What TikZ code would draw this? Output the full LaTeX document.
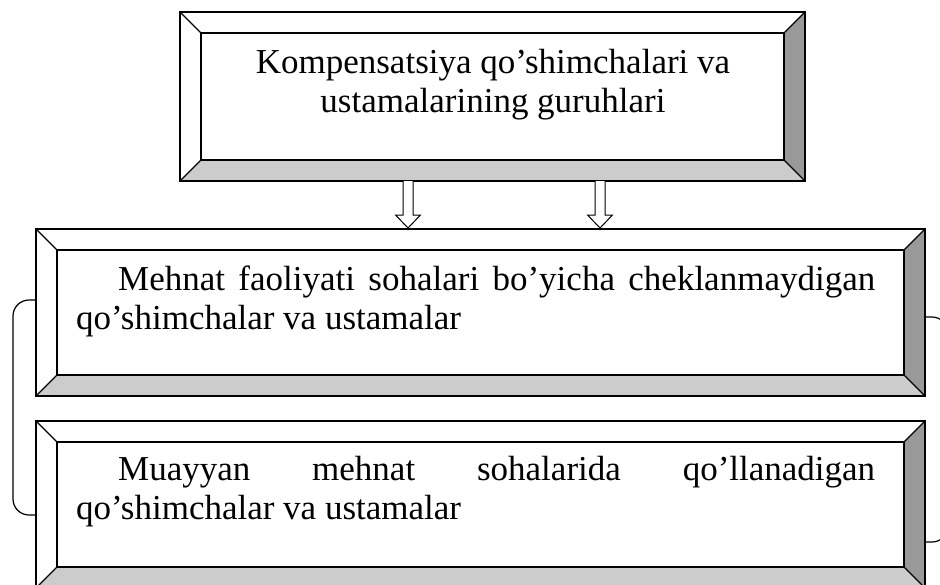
\documentclass[tikz,border=0pt]{standalone}
\usepackage{fontspec}
\setmainfont{Liberation Serif}
\newcommand{\txtsetup}{\fontsize{35}{39}\selectfont\hyphenpenalty 10000\relax\tolerance 10000\relax\hbadness 10000\relax}
\tikzset{
  bframe/.style={draw=black, line width=1.5pt, line join=miter},
  bline/.style={draw=black, line width=1.2pt},
  txt/.style={inner sep=0pt, font=\txtsetup},
  hollowarrow/.style={draw=black, line width=1pt, fill=white, line join=miter},
  bracket/.style={draw=black, line width=1.2pt, rounded corners=16pt},
  boxname/.style={draw=none, inner sep=0pt, minimum width=#1, anchor=north west}
}
% \bevelbox{x1}{y1}{x2}{y2}{d}
\newcommand{\bevelbox}[5]{%
  \fill[white] (#1,#2) -- (#3,#2) -- (#3-#5,#2+#5) -- (#1+#5,#2+#5) -- cycle;
  \fill[white] (#1,#2) -- (#1+#5,#2+#5) -- (#1+#5,#4-#5) -- (#1,#4) -- cycle;
  \fill[black!20] (#1,#4) -- (#1+#5,#4-#5) -- (#3-#5,#4-#5) -- (#3,#4) -- cycle;
  \fill[black!40] (#3,#2) -- (#3,#4) -- (#3-#5,#4-#5) -- (#3-#5,#2+#5) -- cycle;
  \draw[bline] (#1,#2) -- (#1+#5,#2+#5) (#3,#2) -- (#3-#5,#2+#5)
               (#1,#4) -- (#1+#5,#4-#5) (#3,#4) -- (#3-#5,#4-#5);
  \draw[bframe] (#1+#5,#2+#5) rectangle (#3-#5,#4-#5);
  \draw[bframe] (#1,#2) rectangle (#3,#4);
}
\begin{document}
\begin{tikzpicture}[x=1pt,y=-1pt]
\clip (0,0) rectangle (940,584);
\fill[white] (0,0) rectangle (940,584);

% boxes
\bevelbox{180}{12}{805}{181}{21}
\bevelbox{36}{229}{925}{396}{21}
\bevelbox{36}{421}{925}{588}{21}

% named box nodes
\node[boxname=625pt, minimum height=169pt] (top) at (180,12) {};
\node[boxname=889pt, minimum height=167pt] (mid) at (36,229) {};
\node[boxname=889pt, minimum height=167pt] (bot) at (36,421) {};

% texts
\node[txt, align=center, anchor=north] (ttop) at (493,49)
  {Kompensatsiya qo’shimchalari va\\ustamalarining guruhlari};
\node[txt, text width=799pt, align=justify, anchor=north west] (tmid) at (76,266)
  {\hspace*{42pt}Mehnat faoliyati sohalari bo’yicha cheklanmaydigan qo’shimchalar va ustamalar};
\node[txt, text width=799pt, align=justify, anchor=north west] (tbot) at (76,456)
  {\hspace*{42pt}Muayyan mehnat sohalarida qo’llanadigan qo’shimchalar va ustamalar};

% hollow arrows from top box to middle box
\foreach \cx/\nm in {408/a1, 600/a2} {
  \coordinate (\nm s) at (\cx,181);
  \coordinate (\nm e) at (\cx,228);
  \draw[hollowarrow] (\cx-5,181) -- (\cx-5,215) -- (\cx-12.5,215) -- (\nm e)
     -- (\cx+12.5,215) -- (\cx+5,215) -- (\cx+5,181);
}

% left bracket
\coordinate (lb1) at (13,300);
\coordinate (lb2) at (13,515);
\draw[bracket] (mid.west |- lb1) -- (lb1) -- (lb2) -- (bot.west |- lb2);

% right bracket
\coordinate (rb1) at (948,317);
\coordinate (rb2) at (948,542);
\draw[bracket] (mid.east |- rb1) -- (rb1) -- (rb2) -- (bot.east |- rb2);
\end{tikzpicture}
\end{document}
